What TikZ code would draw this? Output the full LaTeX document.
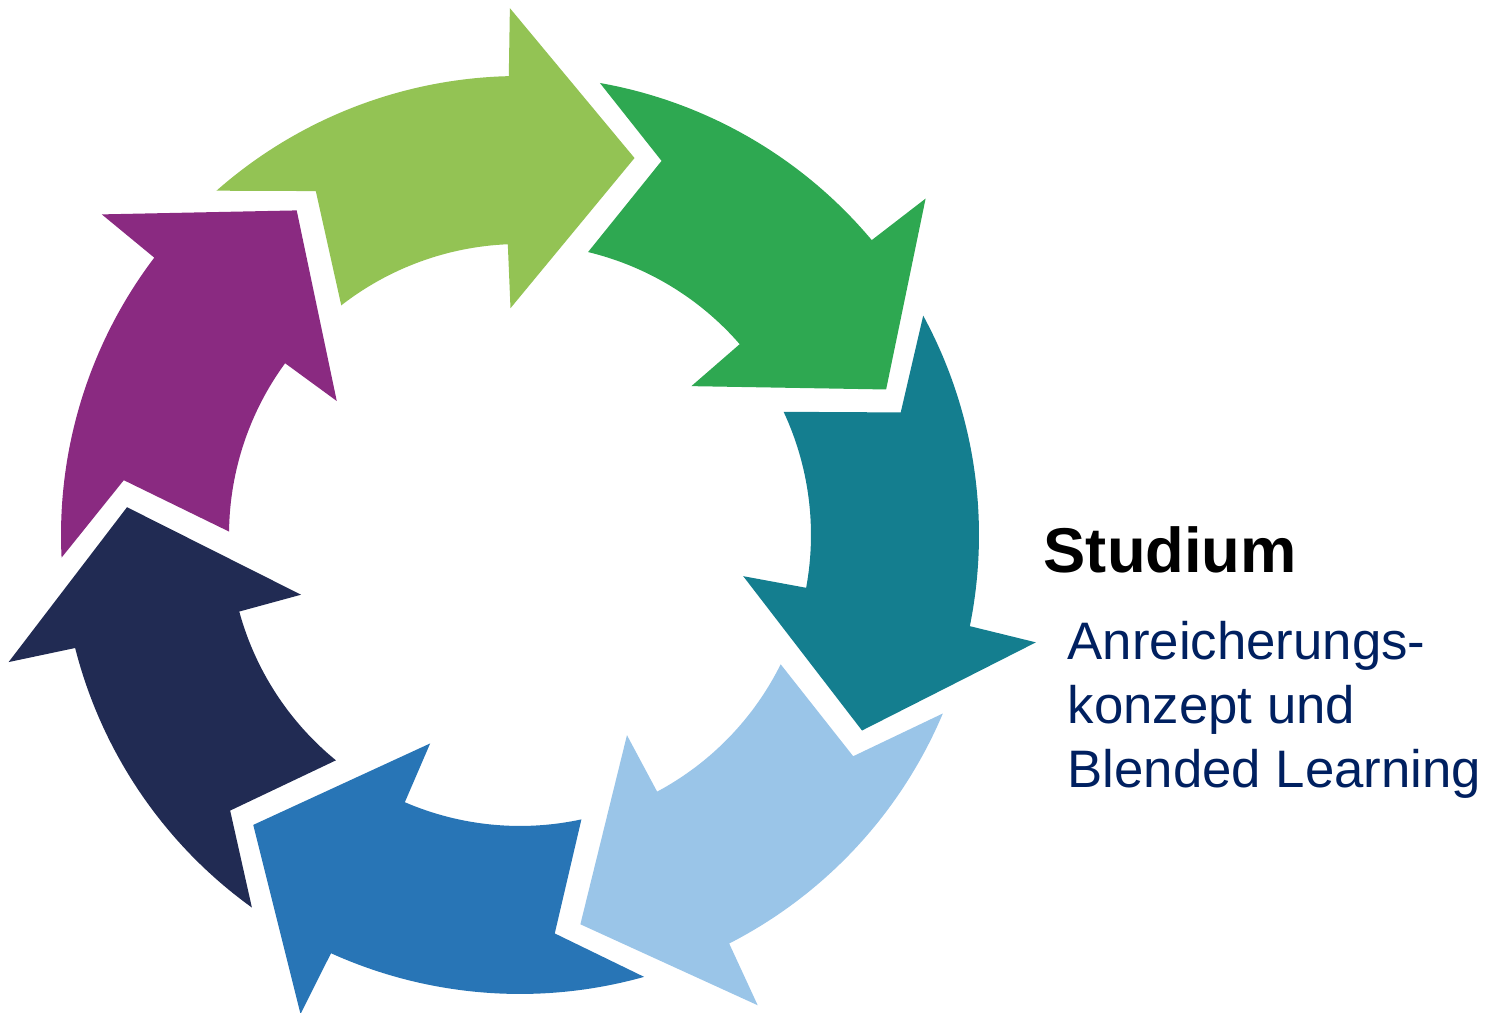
\documentclass[tikz,border=0pt]{standalone}
\usepackage{fontspec}
\setmainfont{Liberation Sans}

\definecolor{stepLime}{HTML}{93C354}
\definecolor{stepGreen}{HTML}{2EA851}
\definecolor{stepTeal}{HTML}{147E8F}
\definecolor{stepSky}{HTML}{9AC5E8}
\definecolor{stepBlue}{HTML}{2875B6}
\definecolor{stepNavy}{HTML}{212B53}
\definecolor{stepPlum}{HTML}{8A2A81}
\definecolor{textNavy}{HTML}{002060}

\begin{document}
\begin{tikzpicture}[x=0.01cm, y=0.01cm]
  \useasboundingbox (0,0) rectangle (1502,1013);
  % seven curved arrows round the ring, clockwise, each one turned by 360/7
  \foreach \col [count=\i from 0] in {stepLime,stepGreen,stepTeal,stepSky,stepBlue,stepNavy,stepPlum} {
    \pgfmathsetmacro{\turn}{131.4 - 360/7*\i}
    \fill [fill=\col, shift={(520,478)}, rotate=\turn]
      (0:459) -- (-10.7:400) -- (-3.5:291)
      arc [start angle=-3.5, end angle=-39, radius=291]
      -- (-39:227) -- (-58.3:394) -- (-40.3:527) -- (-40:459)
      arc [start angle=-40, end angle=0, radius=459] -- cycle;
  }
  % caption on the right (the multi-line node sits on its last baseline)
  \node (title) [anchor=base west, inner sep=0, font=\bfseries\fontsize{18}{22}\selectfont] at (1043,440) {Studium};
  \node (topic) [anchor=base west, inner sep=0, align=left, text=textNavy, font=\fontsize{15}{18.2}\selectfont] at (1067,225) {Anreicherungs-\\konzept und\\Blended Learning};
\end{tikzpicture}
\end{document}
